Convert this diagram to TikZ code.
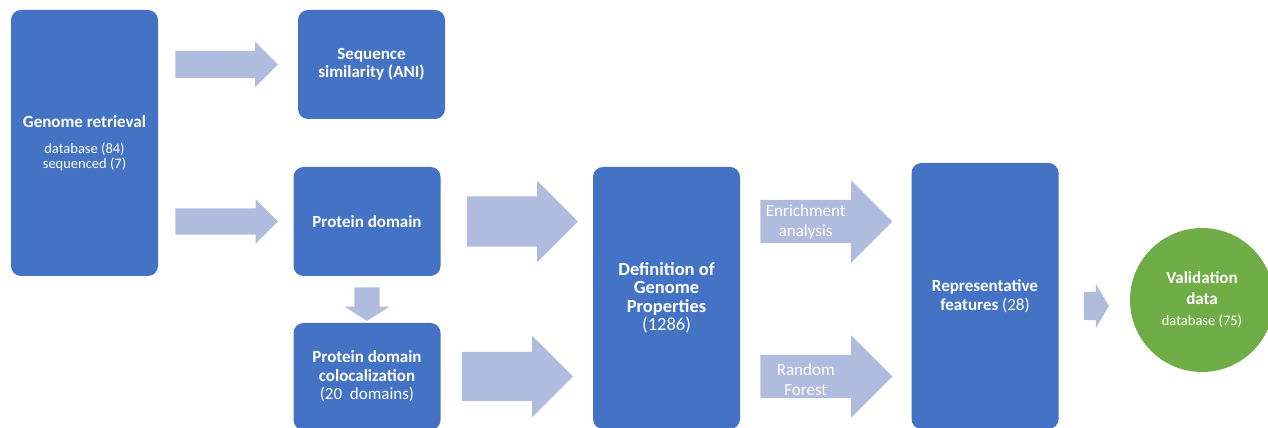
\documentclass[tikz,border=0pt]{standalone}
\usepackage{fontspec}
\setmainfont{Carlito}
\usetikzlibrary{shapes.arrows}
\definecolor{boxblue}{RGB}{68,114,196}
\definecolor{arrowblue}{RGB}{176,188,222}
\definecolor{circgreen}{RGB}{112,173,71}
\newcommand\subtext{\fontsize{14.5}{15}\selectfont\mdseries}
\begin{document}
\begin{tikzpicture}[x=1pt, y=1pt,
main/.style = {fill=boxblue, rounded corners=10pt, text=white, align=center, minimum width=147pt, font=\fontsize{17}{18.5}\selectfont\bfseries},
fat/.style = {single arrow, fill=arrowblue, anchor=tail, inner xsep=0pt, single arrow tip angle=90},
lbl/.style = {text=white, align=center, font=\fontsize{17}{20}\selectfont}]
    \useasboundingbox (0,0) rectangle (1268,428);
    \clip (0,0) rectangle (1268,428);
    \node[main, minimum height=266pt] (1) at (84.5,285) {Genome retrieval\\[7.5pt]\subtext database (84)\\[-3.5pt]\subtext sequenced (7)};
    \node[main, minimum height=109pt] (2) at (371.5,363.5) {Sequence\\similarity (ANI)};
    \node[main, minimum height=109pt] (3) at (367,206.5) {Protein domain};
    \node[main, minimum height=107pt] (4) at (367,51.5) {Protein domain\\colocalization\\\mdseries(20\ \ domains)};
    \node[main, minimum height=262pt, font=\fontsize{18.5}{18.5}\selectfont\bfseries] (5) at (666.5,130) {Definition of\\Genome\\Properties\\\mdseries(1286)};
    \node[main, minimum height=266pt] (6) at (985,132) {Representative\\features \mdseries(28)};
    \node[main, circle, fill=circgreen, minimum size=144pt] (7) at (1202,128) {Validation\\[2.5pt]data\\[2.5pt]\subtext database (75)};

    \node[fat, minimum height=102.5pt, minimum width=45pt, inner ysep=13.5pt, single arrow head extend=9pt] (a1) at ([xshift=17pt]1.east |- 2.center) {};
    \node[fat, minimum height=102.5pt, minimum width=44pt, inner ysep=13pt, single arrow head extend=9pt] (a2) at ([xshift=17pt]1.east |- 3.center) {};
    \node[fat, shape border rotate=270, single arrow tip angle=115, minimum height=26pt, minimum width=44pt, inner sep=12.5pt, single arrow head extend=9.5pt] (a3) at ([yshift=-11pt]3.south) {};
    \node[fat, minimum height=111pt, minimum width=81pt, inner ysep=25pt, single arrow head extend=15.5pt] (a4) at ([xshift=26pt]3.east) {};
    \node[fat, minimum height=111pt, minimum width=81pt, inner ysep=24.5pt, single arrow head extend=16pt] (a5) at ([xshift=21pt]4.east) {};
    \node[fat, minimum height=132pt, minimum width=82pt, inner ysep=21.5pt, single arrow head extend=19.5pt] (a6) at ([xshift=20pt]5.east |- 3.center) {};
    \node[fat, minimum height=132pt, minimum width=82pt, inner ysep=21.5pt, single arrow head extend=19.5pt] (a7) at ([xshift=20pt]5.east |- 4.center) {};
    \node[fat, single arrow tip angle=119, yshift=-6pt, minimum height=25pt, minimum width=44pt, inner ysep=14pt, single arrow head extend=8pt] (a8) at ([xshift=25pt]6.east |- 7.center) {};

    \node[lbl] (e) at ([xshift=45.5pt]a6.tail) {Enrichment\\analysis};
    \node[lbl] (f) at ([xshift=45.5pt, yshift=-3pt]a7.tail) {Random\\Forest};
\end{tikzpicture}
\end{document}
